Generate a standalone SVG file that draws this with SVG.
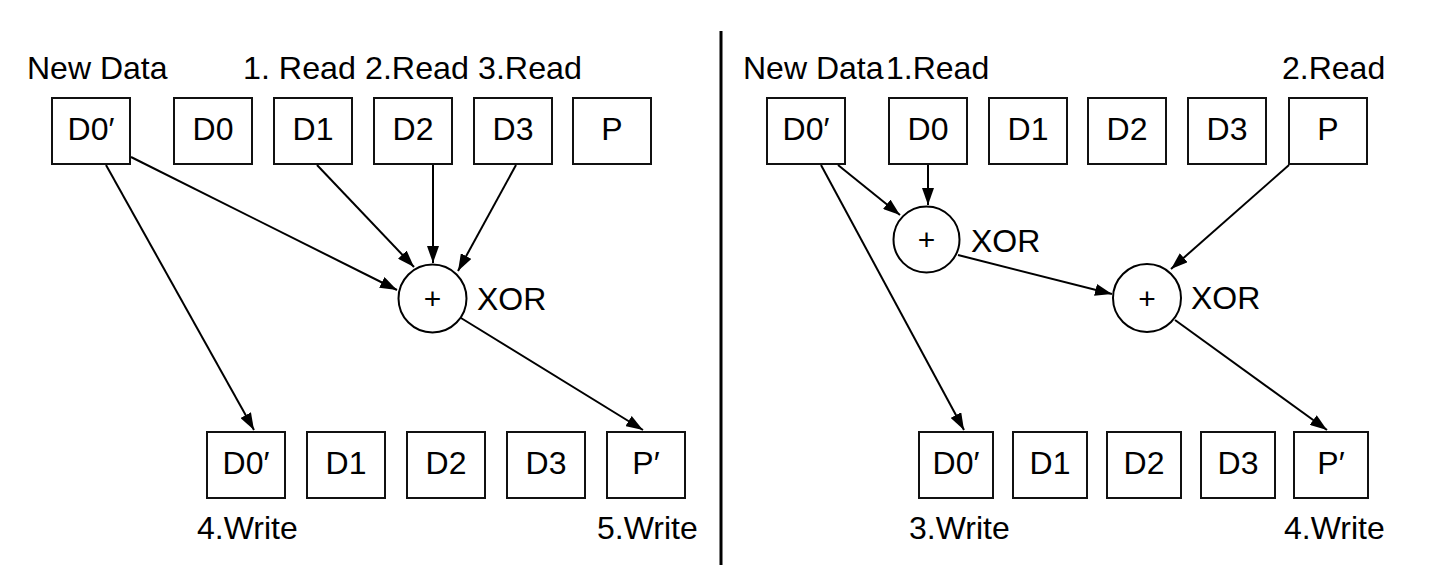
<svg xmlns="http://www.w3.org/2000/svg" width="1438" height="576" viewBox="0 0 1438 576">
<style>
text{font-family:"Liberation Sans",Arial,Helvetica,sans-serif;font-size:32px;fill:#000}
.box{fill:#fff;stroke:#111;stroke-width:2}
.bt{text-anchor:middle}
.op{fill:#fff;stroke:#000;stroke-width:2}
.pl{text-anchor:middle;font-size:30px}
.con line{stroke:#000;stroke-width:2;marker-end:url(#ah)}
</style>
<defs>
<marker id="ah" markerUnits="userSpaceOnUse" markerWidth="18" markerHeight="12" refX="17" refY="6" orient="auto">
<path d="M0,0 L17,6 L0,12 z" fill="#000"/>
</marker>
</defs>
<rect width="1438" height="576" fill="#fff"/>
<line x1="721" y1="31" x2="721" y2="565" stroke="#000" stroke-width="3"/>

<!-- Left labels -->
<text x="27" y="79">New Data</text>
<text x="243" y="79" textLength="339" lengthAdjust="spacingAndGlyphs">1. Read 2.Read 3.Read</text>
<text x="197" y="539">4.Write</text>
<text x="597" y="539">5.Write</text>

<!-- Left top nodes -->
<g id="L_D0new"><rect class="box" x="52" y="98" width="78" height="66"/><text class="bt" x="91" y="140">D0′</text></g>
<g id="L_D0"><rect class="box" x="174" y="98" width="78" height="66"/><text class="bt" x="213" y="140">D0</text></g>
<g id="L_D1"><rect class="box" x="274" y="98" width="78" height="66"/><text class="bt" x="313" y="140">D1</text></g>
<g id="L_D2"><rect class="box" x="374" y="98" width="78" height="66"/><text class="bt" x="413" y="140">D2</text></g>
<g id="L_D3"><rect class="box" x="474" y="98" width="78" height="66"/><text class="bt" x="513" y="140">D3</text></g>
<g id="L_P"><rect class="box" x="573" y="98" width="78" height="66"/><text class="bt" x="612" y="140">P</text></g>

<!-- Left XOR -->
<g id="L_XOR"><circle class="op" cx="432.5" cy="298.5" r="34"/><text class="pl" x="432.5" y="309">+</text><text x="477" y="310">XOR</text></g>

<!-- Left bottom nodes -->
<g id="L_B_D0new"><rect class="box" x="207" y="432" width="78" height="66"/><text class="bt" x="246" y="474">D0′</text></g>
<g id="L_B_D1"><rect class="box" x="307" y="432" width="78" height="66"/><text class="bt" x="346" y="474">D1</text></g>
<g id="L_B_D2"><rect class="box" x="407" y="432" width="78" height="66"/><text class="bt" x="446" y="474">D2</text></g>
<g id="L_B_D3"><rect class="box" x="507" y="432" width="78" height="66"/><text class="bt" x="546" y="474">D3</text></g>
<g id="L_B_P"><rect class="box" x="607" y="432" width="78" height="66"/><text class="bt" x="646" y="474">P′</text></g>

<!-- Right labels -->
<text x="743" y="79">New Data</text>
<text x="886" y="79">1.Read</text>
<text x="1282" y="79">2.Read</text>
<text x="909" y="539">3.Write</text>
<text x="1284" y="539">4.Write</text>

<!-- Right top nodes -->
<g id="R_D0new"><rect class="box" x="767" y="98" width="78" height="66"/><text class="bt" x="806" y="140">D0′</text></g>
<g id="R_D0"><rect class="box" x="889" y="98" width="78" height="66"/><text class="bt" x="928" y="140">D0</text></g>
<g id="R_D1"><rect class="box" x="989" y="98" width="78" height="66"/><text class="bt" x="1028" y="140">D1</text></g>
<g id="R_D2"><rect class="box" x="1088" y="98" width="78" height="66"/><text class="bt" x="1127" y="140">D2</text></g>
<g id="R_D3"><rect class="box" x="1188" y="98" width="78" height="66"/><text class="bt" x="1227" y="140">D3</text></g>
<g id="R_P"><rect class="box" x="1289" y="98" width="78" height="66"/><text class="bt" x="1328" y="140">P</text></g>

<!-- Right XORs -->
<g id="R_XOR1"><circle class="op" cx="926.5" cy="239.5" r="33"/><text class="pl" x="926.5" y="250">+</text><text x="971" y="252">XOR</text></g>
<g id="R_XOR2"><circle class="op" cx="1147" cy="298" r="34"/><text class="pl" x="1147" y="309">+</text><text x="1191" y="309">XOR</text></g>

<!-- Right bottom nodes -->
<g id="R_B_D0new"><rect class="box" x="919" y="432" width="74" height="66"/><text class="bt" x="956" y="474">D0′</text></g>
<g id="R_B_D1"><rect class="box" x="1013" y="432" width="74" height="66"/><text class="bt" x="1050" y="474">D1</text></g>
<g id="R_B_D2"><rect class="box" x="1107" y="432" width="74" height="66"/><text class="bt" x="1144" y="474">D2</text></g>
<g id="R_B_D3"><rect class="box" x="1201" y="432" width="74" height="66"/><text class="bt" x="1238" y="474">D3</text></g>
<g id="R_B_P"><rect class="box" x="1294" y="432" width="74" height="66"/><text class="bt" x="1331" y="474">P′</text></g>

<!-- Connectors -->
<g class="con" id="connectors">
<line x1="131" y1="157" x2="397" y2="290"/>
<line x1="106" y1="165" x2="254" y2="430"/>
<line x1="317" y1="165" x2="414" y2="267"/>
<line x1="433" y1="165" x2="433" y2="263"/>
<line x1="516" y1="165" x2="458" y2="271"/>
<line x1="461" y1="318" x2="643" y2="430"/>

<line x1="838" y1="165" x2="900" y2="215"/>
<line x1="928" y1="165" x2="928" y2="205"/>
<line x1="821" y1="165" x2="964" y2="430"/>
<line x1="958" y1="255" x2="1112" y2="294"/>
<line x1="1289" y1="165" x2="1171" y2="269"/>
<line x1="1175" y1="320" x2="1327" y2="430"/>
</g>
</svg>
